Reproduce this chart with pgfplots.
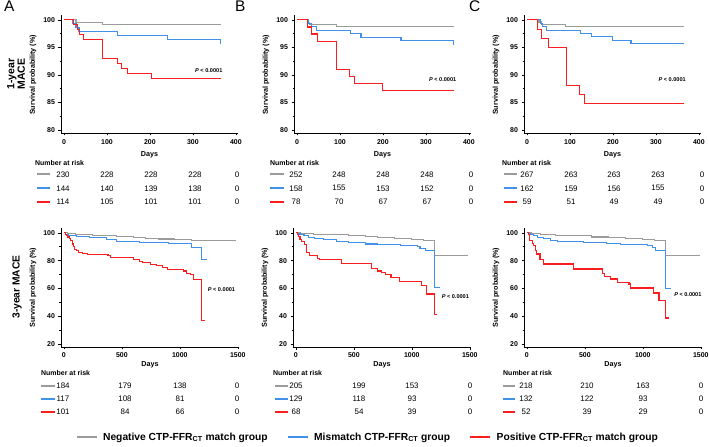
\documentclass[border=0pt]{standalone}
\usepackage{fontspec}
\setmainfont{Liberation Sans}
\usepackage{pgfplots}
\pgfplotsset{compat=1.18}
\definecolor{kg}{RGB}{155,155,155}
\definecolor{kb}{RGB}{65,145,235}
\definecolor{kr}{RGB}{250,30,30}
\newcommand{\fs}[1]{\fontsize{#1}{#1}\selectfont}
\pgfplotsset{
  km/.style={
    scale only axis,
    axis lines*=left,
    axis line style={-, line width=0.8bp, black},
    tick align=outside,
    major tick length=2.5bp,
    minor tick length=1.5bp,
    tick style={black, line width=0.6bp},
    /pgf/number format/assume math mode=true,
    /pgf/number format/1000 sep={},
    tick label style={font=\fs{7}\bfseries},
    xlabel={Days},
    ylabel={Survival probability (\%)},
    label style={font=\fs{7.2}\bfseries},
    clip=false,
    every axis plot/.append style={const plot, line width=1.1bp, mark=none},
  },
  kmtop/.style={km, width=177bp, height=118bp, xmin=-7, xmax=405, ymin=79.45, ymax=100.9,
    xtick={0,100,200,300,400}, ytick={80,85,90,95,100}, minor ytick={82.5,87.5,92.5,97.5},
    xticklabel style={yshift=-1bp},
    xlabel style={at={(axis description cs:0.5,0)},anchor=center,yshift=-22bp},
    ylabel style={at={(axis description cs:-0.158,0.492)},anchor=center}},
  kmbot/.style={km, width=178bp, height=119bp, xmin=-25, xmax=1510, ymin=17.8, ymax=103.5,
    xtick={0,500,1000,1500}, ytick={20,40,60,80,100}, minor ytick={30,50,70,90},
    xlabel style={at={(axis description cs:0.5,0)},anchor=center,yshift=-18bp},
    ylabel style={at={(axis description cs:-0.157,0.5)},anchor=center}},
}
\newcommand{\pv}[2]{\node[font=\fs{5.6}\bfseries] at (axis cs:#1,#2) {\textit{P} < 0.0001};}
\newcommand{\rk}[3]{\node[font=\fs{8}] at (#1bp,#2bp) {#3};}
\newcommand{\dash}[4]{\draw[#4, line width=2.2bp] (#1bp,#3bp) -- (#2bp,#3bp);}
\begin{document}
\begin{tikzpicture}
\path[use as bounding box] (0,0) rectangle (709bp,447bp);
% ---------- top A ----------
\begin{axis}[kmtop, at={(61bp,314bp)}, anchor=south west]
\addplot[kg] coordinates {(0,100) (28,99.57) (90,99.13) (365,99.13)};
\addplot[kb] coordinates {(0,100) (20,99.31) (28,98.61) (35,97.92) (125,97.22) (240,96.5) (364,95.8) (365,95.8)};
\addplot[kr] coordinates {(0,100) (23,99.12) (31,98.25) (37,97.37) (45,96.49) (90,92.98) (124,92.1) (133,91.2) (148,90.3) (203,89.4) (365,89.4)};
\pv{337}{90.8}
\end{axis}
% ---------- top B ----------
\begin{axis}[kmtop, at={(294bp,314bp)}, anchor=south west]
\addplot[kg] coordinates {(0,100) (25,99.6) (30,99.2) (92,98.8) (365,98.8)};
\addplot[kb] coordinates {(0,100) (27,99.37) (33,98.73) (45,98.1) (124,97.47) (149,96.84) (242,96.2) (364,95.6) (365,95.6)};
\addplot[kr] coordinates {(0,100) (25,98.72) (33,97.44) (48,96.15) (91,91.03) (123,89.74) (133,88.46) (200,87.18) (365,87.18)};
\pv{339}{89.2}
\end{axis}
% ---------- top C ----------
\begin{axis}[kmtop, at={(524bp,314bp)}, anchor=south west]
\addplot[kg] coordinates {(0,100) (28,99.63) (33,99.25) (90,98.88) (365,98.88)};
\addplot[kb] coordinates {(0,100) (31,99.38) (36,98.77) (46,98.15) (124,97.53) (150,96.91) (200,96.3) (242,95.68) (365,95.68)};
\addplot[kr] coordinates {(0,100) (25,98.31) (33,96.61) (49,94.92) (91,88.14) (123,86.44) (133,84.75) (365,84.75)};
\pv{338}{89.1}
\end{axis}
% ---------- bottom A ----------
\begin{axis}[kmbot, at={(61bp,100bp)}, anchor=south west]
\addplot[kg] coordinates {(0,100) (30,99.5) (100,98.9) (250,98.4) (350,97.8) (450,97.3) (600,96.7) (700,96.2) (820,95.6) (950,95.0) (1100,94.4) (1480,94.4)};
\addplot[kb] coordinates {(0,100) (15,99.1) (40,98.3) (110,97.4) (220,96.6) (370,95.0) (450,94.0) (650,93.0) (900,92.6) (1100,89.5) (1190,80.5) (1230,80.5)};
\addplot[kr] coordinates {(0,100) (10,99) (20,98) (30,97) (45,96) (60,94.6) (75,92) (85,90) (95,88) (110,87) (125,86) (160,85) (200,84.3) (380,83.7) (400,82.5) (560,82) (600,81) (650,79.5) (680,78.5) (750,77.5) (800,76.3) (850,75) (890,73.5) (1030,72.5) (1060,71) (1090,69.7) (1120,66.5) (1190,37) (1215,37)};
\pv{1359}{59.4}
\end{axis}
% ---------- bottom B ----------
\begin{axis}[kmbot, at={(293bp,100bp)}, anchor=south west,
  legend columns=3,
  legend style={draw=none, fill=none, font=\fs{10.3}\bfseries, at={(axis description cs:0.42,-0.757)}, anchor=center,
    /tikz/every odd column/.append style={column sep=3bp},
    /tikz/every even column/.append style={column sep=17bp}},
  legend image code/.code={\draw[#1, line width=2.5bp] (0bp,0bp) -- (20bp,0bp);}]
\addplot[kg] coordinates {(0,100) (40,99.5) (150,99) (300,98.5) (450,98) (600,97.2) (700,96.7) (850,96) (1000,95.3) (1100,94.5) (1198,84) (1488,84)};
\addlegendentry{Negative CTP-FFR\textsubscript{CT} match group}
\addplot[kb] coordinates {(0,100) (15,99.2) (40,98.5) (70,97.8) (110,96.8) (160,95.8) (240,94.9) (350,93.5) (450,92.8) (600,92) (700,91.3) (900,90.8) (1050,90) (1070,88.8) (1120,87.5) (1192,60.5) (1240,60.5)};
\addlegendentry{Mismatch CTP-FFR\textsubscript{CT} group}
\addplot[kr] coordinates {(0,100) (10,99) (20,97.5) (35,95.5) (50,93.5) (75,91.5) (95,86) (120,83.5) (190,81.5) (200,80.8) (390,78) (650,74.5) (700,72.5) (740,71.5) (770,69.7) (820,67.7) (890,64.8) (1080,62) (1125,56) (1198,41.5) (1221,41.5)};
\addlegendentry{Positive CTP-FFR\textsubscript{CT} match group}
\pv{1375}{54.3}
\end{axis}
% ---------- bottom C ----------
\begin{axis}[kmbot, at={(524bp,100bp)}, anchor=south west]
\addplot[kg] coordinates {(0,100) (40,99.3) (120,98.8) (250,98.3) (420,97.8) (560,97) (700,96.5) (850,95.8) (1000,95) (1100,94.3) (1198,83.6) (1490,83.6)};
\addplot[kb] coordinates {(0,100) (15,99.4) (30,98.8) (60,97.8) (90,96.9) (140,95.7) (200,94.8) (260,94) (490,93.3) (690,92.5) (810,91.6) (1040,90.8) (1080,89.5) (1110,87) (1197,60) (1240,60)};
\addplot[kr] coordinates {(0,100) (12,98.5) (20,96.5) (26,94.5) (45,92.5) (55,90.8) (75,87.5) (84,84.8) (113,81) (142,77.6) (402,74) (650,70.5) (670,68.5) (720,66.8) (780,64.4) (880,63.2) (893,60.3) (1095,56.7) (1139,51.2) (1197,38.7) (1225,38.7)};
\pv{1388}{55.5}
\end{axis}
% ---------- labels ----------
\node[font=\fs{15.5}, anchor=north west, inner sep=0] at (4bp,446bp) {A};
\node[font=\fs{15.5}, anchor=north west, inner sep=0] at (235bp,446bp) {B};
\node[font=\fs{15.5}, anchor=north west, inner sep=0] at (469bp,446bp) {C};
\node[rotate=90, font=\fs{10.5}\bfseries, align=center] at (16bp,373bp) {1-year\\MACE};
\node[rotate=90, font=\fs{10.3}\bfseries] at (17bp,160bp) {3-year MACE};
% ---------- risk tables top ----------
\foreach \xx in {35,270,502} {\node[font=\fs{7}\bfseries, anchor=west, inner sep=0] at (\xx bp,284bp) {Number at risk};}
\dash{37}{50}{272.7}{kg}\dash{37}{50}{258.7}{kb}\dash{37}{50}{245.3}{kr}
\dash{270}{284}{272.7}{kg}\dash{270}{284}{258.7}{kb}\dash{270}{284}{245.3}{kr}
\dash{504}{517}{272.7}{kg}\dash{504}{517}{258.7}{kb}\dash{504}{517}{245.3}{kr}
\rk{63}{272.7}{230}\rk{107}{272.7}{228}\rk{151}{272.7}{228}\rk{195}{272.7}{228}\rk{237}{272.7}{0}
\rk{63}{258.7}{144}\rk{107}{258.7}{140}\rk{151}{258.7}{139}\rk{195}{258.7}{138}\rk{237}{258.7}{0}
\rk{63}{245.3}{114}\rk{107}{245.3}{105}\rk{151}{245.3}{101}\rk{195}{245.3}{101}\rk{237}{245.3}{0}
\rk{296}{272.7}{252}\rk{339}{272.7}{248}\rk{383}{272.7}{248}\rk{427}{272.7}{248}\rk{471}{272.7}{0}
\rk{296}{258.7}{158}\rk{339}{258.7}{155}\rk{383}{258.7}{153}\rk{427}{258.7}{152}\rk{471}{258.7}{0}
\rk{296}{245.3}{78}\rk{339}{245.3}{70}\rk{383}{245.3}{67}\rk{427}{245.3}{67}\rk{471}{245.3}{0}
\rk{527}{272.7}{267}\rk{571}{272.7}{263}\rk{614}{272.7}{263}\rk{658}{272.7}{263}\rk{702}{272.7}{0}
\rk{527}{258.7}{162}\rk{571}{258.7}{159}\rk{614}{258.7}{156}\rk{658}{258.7}{155}\rk{702}{258.7}{0}
\rk{527}{245.3}{59}\rk{571}{245.3}{51}\rk{614}{245.3}{49}\rk{658}{245.3}{49}\rk{702}{245.3}{0}
% ---------- risk tables bottom ----------
\node[font=\fs{7}\bfseries, anchor=west, inner sep=0] at (41bp,73.7bp) {Number at risk};
\node[font=\fs{7}\bfseries, anchor=west, inner sep=0] at (273bp,73.7bp) {Number at risk};
\node[font=\fs{7}\bfseries, anchor=west, inner sep=0] at (503bp,73.7bp) {Number at risk};
\dash{41}{55}{61}{kg}\dash{41}{55}{48}{kb}\dash{41}{55}{35}{kr}
\dash{275}{288}{61}{kg}\dash{275}{288}{48}{kb}\dash{275}{288}{35}{kr}
\dash{503}{515}{61}{kg}\dash{503}{515}{48}{kb}\dash{503}{515}{35}{kr}
\rk{63}{61}{184}\rk{125}{61}{179}\rk{180}{61}{138}\rk{237}{61}{0}
\rk{63}{48}{117}\rk{125}{48}{108}\rk{180}{48}{81}\rk{237}{48}{0}
\rk{63}{35}{101}\rk{125}{35}{84}\rk{180}{35}{66}\rk{237}{35}{0}
\rk{296}{61}{205}\rk{359}{61}{199}\rk{412}{61}{153}\rk{470}{61}{0}
\rk{296}{48}{129}\rk{359}{48}{118}\rk{412}{48}{93}\rk{470}{48}{0}
\rk{296}{35}{68}\rk{359}{35}{54}\rk{412}{35}{39}\rk{470}{35}{0}
\rk{526}{61}{218}\rk{587}{61}{210}\rk{643}{61}{163}\rk{701}{61}{0}
\rk{526}{48}{132}\rk{587}{48}{122}\rk{643}{48}{93}\rk{701}{48}{0}
\rk{526}{35}{52}\rk{587}{35}{39}\rk{643}{35}{29}\rk{701}{35}{0}
\end{tikzpicture}
\end{document}
